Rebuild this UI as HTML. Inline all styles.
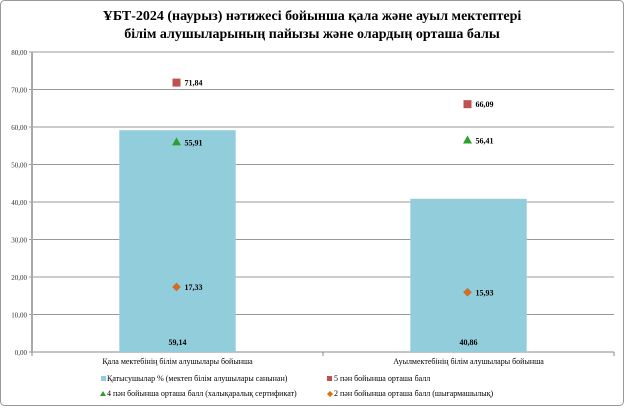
<!DOCTYPE html>
<html><head><meta charset="utf-8"><style>
body{margin:0;background:#fff}
svg text{font-family:"Liberation Serif",serif}
</style></head><body>
<svg id="c" width="624" height="406" xmlns="http://www.w3.org/2000/svg">
<rect x="0.5" y="0.5" width="623" height="405" rx="4" fill="#fff" stroke="#999"/>
<text x="312" y="20" text-anchor="middle" font-size="14" font-weight="bold">ҰБТ-2024 (наурыз) нәтижесі бойынша қала және ауыл мектептері</text>
<text x="312" y="38" text-anchor="middle" font-size="14" font-weight="bold">білім алушыларының пайызы және олардың орташа балы</text>
<g id="plot"></g>
<g font-size="8">
<rect x="101" y="376" width="5" height="5" fill="#92CDDC"/>
<text x="107" y="381">Қатысушылар % (мектеп білім алушылары санынан)</text>
<rect x="327" y="376" width="5" height="5" fill="#C0504D"/>
<text x="334" y="381">5 пән бойынша орташа балл</text>
<polygon points="103,391 106,396 100,396" fill="#2CA02C"/>
<text x="107" y="396">4 пән бойынша орташа балл (халықаралық сертификат)</text>
<polygon points="330,391 333,394 330,397 327,394" fill="#E36C09"/>
<text x="334" y="396">2 пән бойынша орташа балл (шығармашылық)</text>
</g>
</svg>
<script>
const categories=["Қала мектебінің білім алушылары бойынша","Ауылмектебінің білім алушылары бойынша"];
const participants=[59.14,40.86];
const fiveSubj=[71.84,66.09];
const fourSubj=[55.91,56.41];
const twoSubj=[17.33,15.93];
const yTicks=[0,10,20,30,40,50,60,70,80];
const NS="http://www.w3.org/2000/svg";
const g=document.getElementById('plot');
const X0=32,X1=614,Y0=352,Y1=52,YMAX=80;
const y=v=>Y0-(v/YMAX)*(Y0-Y1);
const band=(X1-X0)/categories.length;
const cx=i=>X0+band*(i+0.5);
const fmt=v=>v.toFixed(2).replace('.',',');
function mk(t,a){const e=document.createElementNS(NS,t);for(const k in a)e.setAttribute(k,a[k]);g.appendChild(e);return e;}
yTicks.forEach(t=>{
 const l=mk('line',{x1:X0-3,x2:X1,y1:y(t),y2:y(t),stroke:t===0?'#888':'#999','stroke-width':1});
 
 
 const tx=mk('text',{x:X0-5,y:y(t)+3,'text-anchor':'end','font-size':7,fill:'#333'});
 tx.textContent=fmt(t);
 
 
});
const ax=mk('line',{x1:X0,x2:X0,y1:Y1,y2:Y0,stroke:'#aaa','stroke-width':2});


[0,1,2].forEach(i=>{const t=mk('line',{x1:X0+band*i,x2:X0+band*i,y1:Y0,y2:Y0+4,stroke:'#888'});
 
 });
categories.forEach((c,i)=>{
 const bw=band*0.4;
 const b=mk('rect',{x:cx(i)-bw/2,y:y(participants[i]),width:bw,height:Y0-y(participants[i]),fill:'#92CDDC'});
 
 
 const bl=mk('text',{x:cx(i),y:Y0-7,'text-anchor':'middle','font-size':8,'font-weight':'bold'});
 bl.textContent=fmt(participants[i]);
 
 
 const xl=mk('text',{x:cx(i),y:Y0+12,'text-anchor':'middle','font-size':8});
 xl.textContent=c;
 
 
 const mx=cx(i)-1;
 let p=y(fiveSubj[i]);
 const sq=mk('rect',{x:mx-4,y:p-4,width:8,height:8,fill:'#C0504D'});
 
 
 p=y(fourSubj[i]);
 const tr=mk('polygon',{points:`${mx},${p-5} ${mx+4.5},${p+3} ${mx-4.5},${p+3}`,fill:'#2CA02C'});
 
 
 p=y(twoSubj[i]);
 const dm=mk('polygon',{points:`${mx},${p-4} ${mx+4},${p} ${mx},${p+4} ${mx-4},${p}`,fill:'#E36C09',stroke:'#8064A2','stroke-width':0.5});
 
 
 [[fiveSubj[i],0],[fourSubj[i],0],[twoSubj[i],0]].forEach(([v])=>{
  const t=mk('text',{x:mx+8,y:y(v)+3,'font-size':8,'font-weight':'bold'});
  t.textContent=fmt(v);
  
  
 });
});
</script>
</body></html>
